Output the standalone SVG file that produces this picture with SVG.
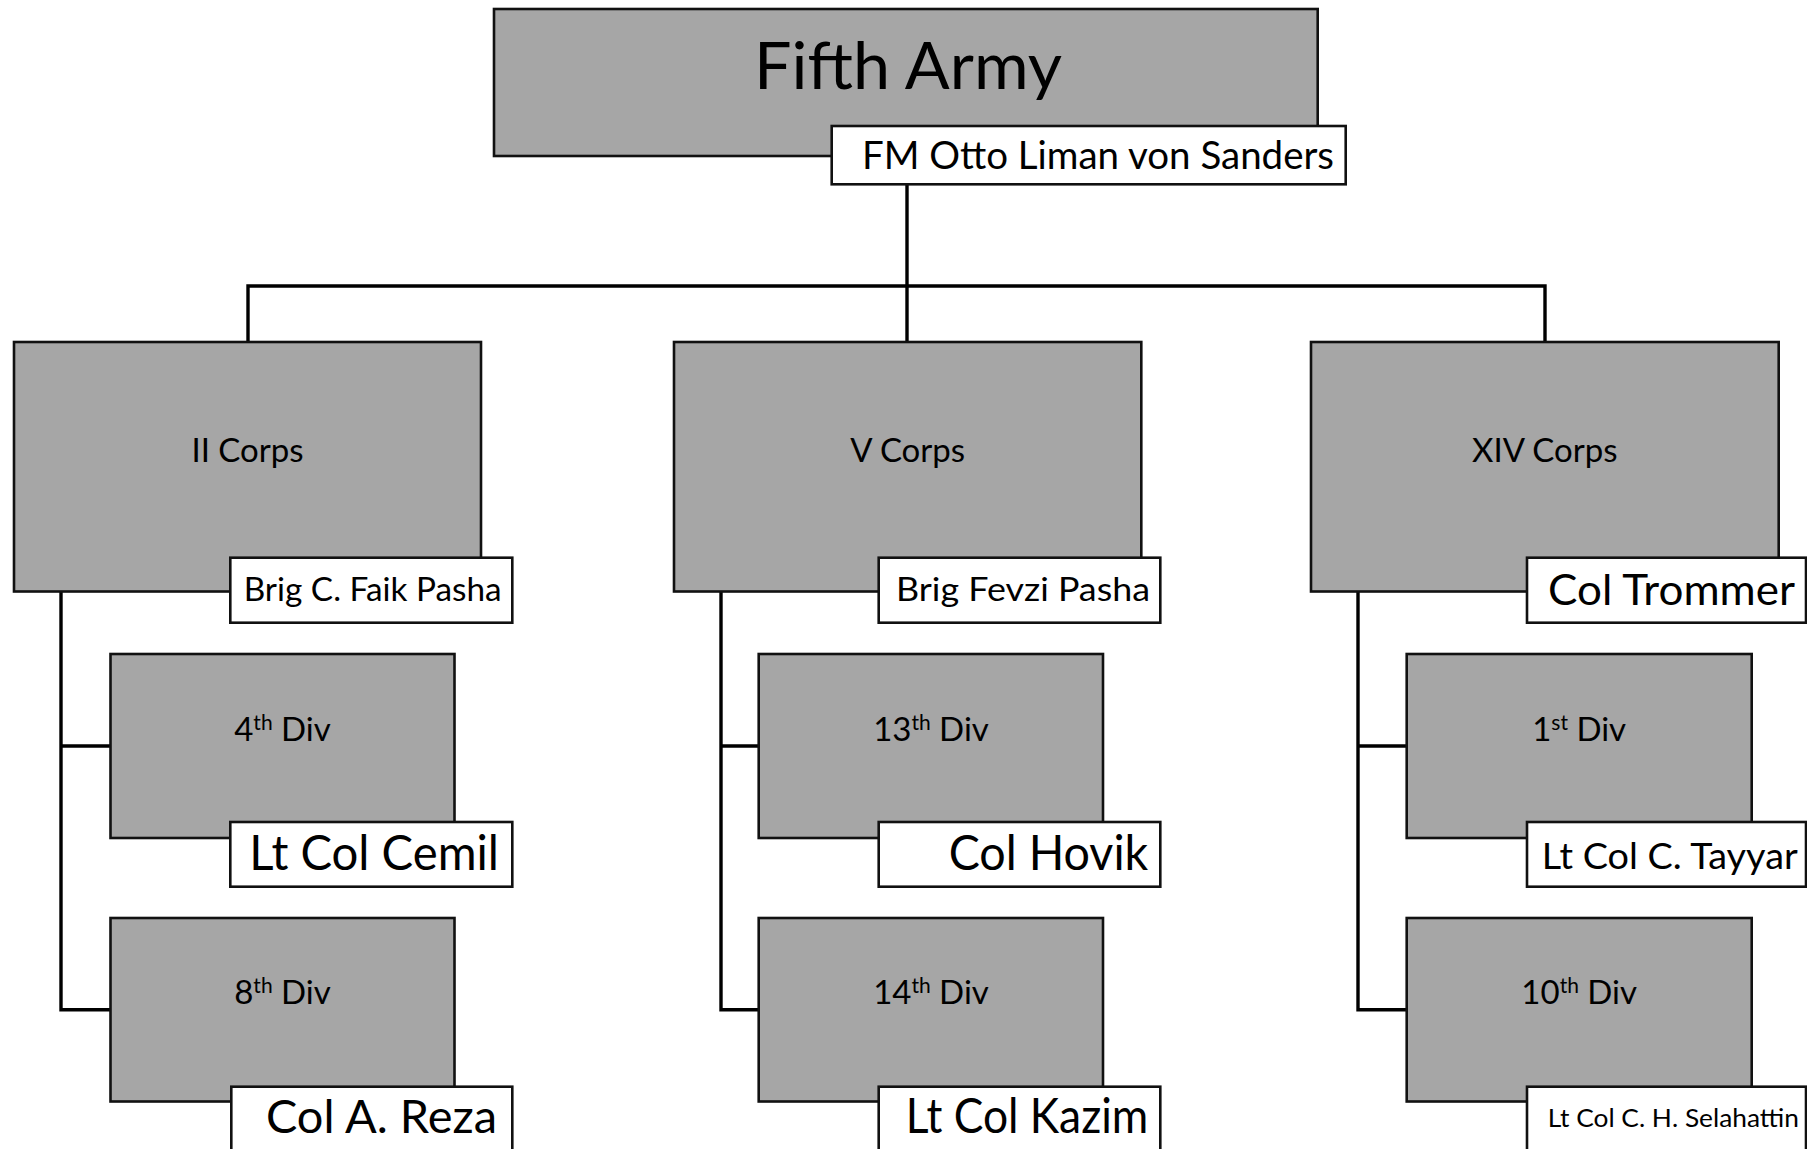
<svg xmlns="http://www.w3.org/2000/svg" width="1807" height="1149" viewBox="0 0 1807 1149">
<style>
  .box { fill: #a6a6a6; stroke: #111; stroke-width: 2.6; }
  .cmd { fill: #ffffff; stroke: #111; stroke-width: 2.6; }
  .conn { fill: none; stroke: #000; stroke-width: 3.4; stroke-linejoin: miter; }
  text { font-family: Lato, "Liberation Sans", sans-serif; fill: #000; }
  .lbl { font-size: 33px; text-anchor: middle; }
  .sup { font-size: 21px; }
  .cmdt { text-anchor: end; }
</style>
<rect width="1807" height="1149" fill="#ffffff"/>
<g id="connectors">
  <path class="conn" d="M907,184 V286 M248,342 V286 H1545 V342 M907,286 V342"/>
  <path class="conn" d="M61,591 V1009.7 H110.5 M61,746 H110.5"/>
  <path class="conn" d="M721,591 V1009.7 H758.7 M721,746 H758.7"/>
  <path class="conn" d="M1358,591 V1009.7 H1406.7 M1358,746 H1406.7"/>
</g>
<g id="fifth-army">
  <rect class="box" x="494" y="9" width="823.7" height="147"/>
  <text x="908" y="89" font-size="66" text-anchor="middle" textLength="308" lengthAdjust="spacingAndGlyphs">Fifth Army</text>
  <rect class="cmd" x="831.7" y="126" width="514" height="58.3"/>
  <text class="cmdt" x="1334" y="168.5" font-size="38" textLength="472" lengthAdjust="spacingAndGlyphs">FM Otto Liman von Sanders</text>
</g>
<g id="ii-corps">
  <rect class="box" x="14" y="342" width="467" height="249.5"/>
  <text class="lbl" x="247.5" y="462">II Corps</text>
  <rect class="cmd" x="230.3" y="557.7" width="282" height="65"/>
  <text class="cmdt" x="501.7" y="601" font-size="33" textLength="258" lengthAdjust="spacingAndGlyphs">Brig C. Faik Pasha</text>
</g>
<g id="v-corps">
  <rect class="box" x="674" y="342" width="467.3" height="249.5"/>
  <text class="lbl" x="907.7" y="462">V Corps</text>
  <rect class="cmd" x="878.7" y="557.7" width="281.6" height="65"/>
  <text class="cmdt" x="1150" y="601" font-size="33" textLength="254" lengthAdjust="spacingAndGlyphs">Brig Fevzi Pasha</text>
</g>
<g id="xiv-corps">
  <rect class="box" x="1311" y="342" width="467.7" height="249.5"/>
  <text class="lbl" x="1544.8" y="462">XIV Corps</text>
  <rect class="cmd" x="1527" y="557.7" width="279" height="65"/>
  <text class="cmdt" x="1795" y="604.5" font-size="42" textLength="247" lengthAdjust="spacingAndGlyphs">Col Trommer</text>
</g>
<g id="div-4">
  <rect class="box" x="110.5" y="654" width="344" height="184"/>
  <text class="lbl" x="282.5" y="741">4<tspan class="sup" dy="-11">th</tspan><tspan dy="11"> Div</tspan></text>
  <rect class="cmd" x="230.3" y="822" width="282" height="64.7"/>
  <text class="cmdt" x="499" y="870" font-size="48" textLength="249.7" lengthAdjust="spacingAndGlyphs">Lt Col Cemil</text>
</g>
<g id="div-8">
  <rect class="box" x="110.5" y="918" width="344" height="183.5"/>
  <text class="lbl" x="282.5" y="1004">8<tspan class="sup" dy="-11">th</tspan><tspan dy="11"> Div</tspan></text>
  <rect class="cmd" x="231.3" y="1086.7" width="281" height="70"/>
  <text class="cmdt" x="497" y="1133" font-size="47" textLength="231" lengthAdjust="spacingAndGlyphs">Col A. Reza</text>
</g>
<g id="div-13">
  <rect class="box" x="758.7" y="654" width="344.3" height="184"/>
  <text class="lbl" x="931" y="741">13<tspan class="sup" dy="-11">th</tspan><tspan dy="11"> Div</tspan></text>
  <rect class="cmd" x="878.7" y="822" width="281.6" height="64.7"/>
  <text class="cmdt" x="1148.3" y="869.5" font-size="48" textLength="199.6" lengthAdjust="spacingAndGlyphs">Col Hovik</text>
</g>
<g id="div-14">
  <rect class="box" x="758.7" y="918" width="344.3" height="183.5"/>
  <text class="lbl" x="931" y="1004">14<tspan class="sup" dy="-11">th</tspan><tspan dy="11"> Div</tspan></text>
  <rect class="cmd" x="878.7" y="1086.7" width="281.6" height="70"/>
  <text class="cmdt" x="1148.3" y="1133" font-size="48" textLength="242.6" lengthAdjust="spacingAndGlyphs">Lt Col Kazim</text>
</g>
<g id="div-1">
  <rect class="box" x="1406.7" y="654" width="345" height="184"/>
  <text class="lbl" x="1579.2" y="741">1<tspan class="sup" dy="-11">st</tspan><tspan dy="11"> Div</tspan></text>
  <rect class="cmd" x="1527" y="822" width="279" height="64.7"/>
  <text class="cmdt" x="1797.7" y="869" font-size="36" textLength="256" lengthAdjust="spacingAndGlyphs">Lt Col C. Tayyar</text>
</g>
<g id="div-10">
  <rect class="box" x="1406.7" y="918" width="345" height="183.5"/>
  <text class="lbl" x="1579.2" y="1004">10<tspan class="sup" dy="-11">th</tspan><tspan dy="11"> Div</tspan></text>
  <rect class="cmd" x="1527" y="1086.7" width="279" height="70"/>
  <text class="cmdt" x="1799" y="1127" font-size="25" textLength="251.3" lengthAdjust="spacingAndGlyphs">Lt Col C. H. Selahattin</text>
</g>
</svg>
